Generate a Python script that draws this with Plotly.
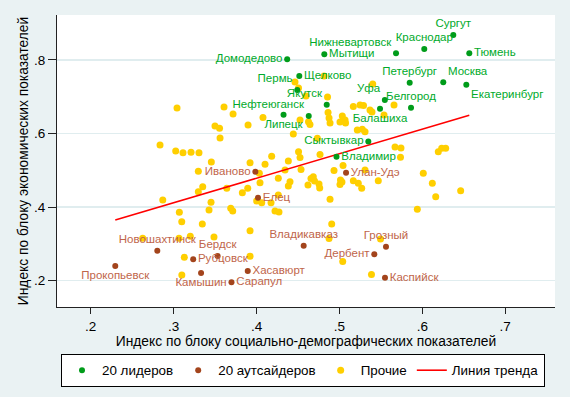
import plotly.graph_objects as go

# ---------------- data ----------------
leader_names = ["Домодедово", "Мытищи", "Нижневартовск", "Краснодар", "Сургут", "Тюмень",
                "Щелково", "Пермь", "Якутск", "Нефтеюганск", "Липецк", "Петербург", "Москва",
                "Екатеринбург", "Уфа", "Балашиха", "Белгород", "Сыктывкар", "Владимир"]
leader_x = [0.4370, 0.4818, 0.5683, 0.6024, 0.6374, 0.6567,
            0.4516, 0.4492, 0.4847, 0.4630, 0.4326, 0.5848, 0.6253,
            0.6531, 0.5548, 0.5490, 0.5864, 0.5349, 0.4965]
leader_y = [0.8020, 0.8155, 0.8182, 0.8299, 0.8680, 0.8182,
            0.7565, 0.7184, 0.6784, 0.6476, 0.6512, 0.7382, 0.7393,
            0.7325, 0.6912, 0.6675, 0.6702, 0.5782, 0.5369]

outsider_names = ["Иваново", "Елец", "Улан-Удэ", "Новошахтинск", "Прокопьевск", "Рубцовск",
                  "Бердск", "Камышин", "Хасавюрт", "Сарапул", "Владикавказ", "Грозный",
                  "Дербент", "Каспийск"]
outsider_x = [0.3986, 0.4018, 0.5080, 0.2803, 0.2296, 0.3236,
              0.3531, 0.3331, 0.3894, 0.3698, 0.4569, 0.5562,
              0.5421, 0.5550]
outsider_y = [0.4961, 0.4253, 0.4933, 0.2811, 0.2395, 0.2577,
              0.2667, 0.2204, 0.2259, 0.1951, 0.2947, 0.2920,
              0.2713, 0.2076]

other_x = [0.3041, 0.3608, 0.3717, 0.3499, 0.3554, 0.3560, 0.2836, 0.3898, 0.4078, 0.4464,
           0.4507, 0.4814, 0.4597, 0.4857, 0.5402, 0.5168, 0.5249, 0.5291, 0.5369, 0.5393,
           0.5659, 0.5538, 0.4863, 0.4875, 0.4887, 0.5035, 0.5068, 0.5007, 0.5074, 0.4627,
           0.4645, 0.4525, 0.5216, 0.5276, 0.5309, 0.4734, 0.4444, 0.5671, 0.5743, 0.6193,
           0.6234, 0.6282, 0.5737, 0.3025, 0.3113, 0.3210, 0.3306, 0.3455, 0.3298, 0.4183,
           0.4507, 0.4525, 0.4384, 0.3922, 0.4103, 0.4344, 0.4935, 0.4685, 0.5309, 0.4766,
           0.5044, 0.4537, 0.4034, 0.6012, 0.4263, 0.4042, 0.4404, 0.4384, 0.4621, 0.4657,
           0.4754, 0.4762, 0.4700, 0.5013, 0.5007, 0.5031, 0.5168, 0.5228, 0.5269, 0.5469,
           0.6121, 0.6463, 0.6162, 0.4887, 0.5940, 0.3351, 0.3298, 0.3641, 0.3829, 0.3894,
           0.4002, 0.4063, 0.4175, 0.4263, 0.4223, 0.4271, 0.2869, 0.3451, 0.3427, 0.3689,
           0.3713, 0.3069, 0.3098, 0.3346, 0.3922, 0.4907, 0.2627, 0.3065, 0.3201, 0.3487,
           0.4875, 0.5496, 0.3129, 0.3922, 0.3099, 0.5040, 0.5387]
other_y = [0.6694, 0.6721, 0.6531, 0.6204, 0.6142, 0.5878, 0.5687, 0.6231, 0.6435, 0.7401,
           0.7238, 0.7565, 0.7020, 0.6993, 0.7347, 0.6735, 0.6776, 0.6762, 0.6639, 0.6585,
           0.6776, 0.6503, 0.6571, 0.6422, 0.6286, 0.6476, 0.6367, 0.6313, 0.6286, 0.6321,
           0.6245, 0.6367, 0.6095, 0.6114, 0.6049, 0.5869, 0.5986, 0.5633, 0.5605, 0.5505,
           0.5597, 0.5597, 0.5352, 0.5524, 0.5478, 0.5488, 0.5478, 0.5225, 0.4971, 0.5380,
           0.5505, 0.5347, 0.5252, 0.5205, 0.5162, 0.5007, 0.4993, 0.4825, 0.5007, 0.5429,
           0.5129, 0.5020, 0.4917, 0.4917, 0.4781, 0.4661, 0.4688, 0.4571, 0.4599, 0.4776,
           0.4626, 0.4517, 0.4708, 0.4735, 0.4612, 0.4680, 0.4716, 0.4645, 0.4509, 0.4716,
           0.4645, 0.4444, 0.4280, 0.4210, 0.3937, 0.4552, 0.4416, 0.4509, 0.4389, 0.4509,
           0.4163, 0.4117, 0.4117, 0.4327, 0.3891, 0.3864, 0.4191, 0.4128, 0.3918, 0.3965,
           0.3891, 0.3856, 0.3600, 0.3537, 0.3355, 0.3537, 0.3148, 0.3148, 0.3203, 0.3184,
           0.3143, 0.3129, 0.2631, 0.2659, 0.2150, 0.2517, 0.2163]

trend_x = [0.2296, 0.6567]
trend_y = [0.3646, 0.6495]

x_ticks = [0.2, 0.3, 0.4, 0.5, 0.6, 0.7]
x_tick_labels = [".2", ".3", ".4", ".5", ".6", ".7"]
y_ticks = [0.2, 0.4, 0.6, 0.8]
y_tick_labels = [".2", ".4", ".6", ".8"]

legend_names = ["20 лидеров", "20 аутсайдеров", "Прочие", "Линия тренда"]
x_title = "Индекс по блоку социально-демографических показателей"
y_title = "Индекс по блоку экономических показателей"

# ---------------- styles ----------------
label_pos = {
    "Домодедово": "middle left", "Мытищи": "middle right", "Нижневартовск": "top left",
    "Краснодар": "top center", "Сургут": "top center", "Тюмень": "middle right",
    "Щелково": "middle right", "Пермь": "top left", "Якутск": "top left",
    "Нефтеюганск": "top left", "Липецк": "bottom center", "Петербург": "top center",
    "Москва": "top right", "Екатеринбург": "bottom right", "Уфа": "top left",
    "Балашиха": "bottom center", "Белгород": "top center", "Сыктывкар": "middle left",
    "Владимир": "middle right",
    "Иваново": "middle left", "Елец": "middle right", "Улан-Удэ": "middle right",
    "Новошахтинск": "top center", "Прокопьевск": "bottom center", "Рубцовск": "middle right",
    "Бердск": "top center", "Камышин": "bottom center", "Хасавюрт": "middle right",
    "Сарапул": "middle right", "Владикавказ": "top center", "Грозный": "top center",
    "Дербент": "middle left", "Каспийск": "middle right",
}

FONT = "Liberation Sans, Arial, sans-serif"
BG = "#eaf2f3"
GREEN_DOT = "#009c1a"
GREEN_TXT = "#00aa2a"
BROWN_DOT = "#a3441c"
BROWN_TXT = "#c0654a"
YELLOW = "#ffcf00"
RED = "#ff0000"

fig = go.Figure()

fig.add_trace(go.Scatter(
    x=other_x, y=other_y, mode="markers", name=legend_names[2], legendrank=3,
    marker=dict(color=YELLOW, size=7, line=dict(width=0)),
    hoverinfo="skip"))

fig.add_trace(go.Scatter(
    x=trend_x, y=trend_y, mode="lines", name=legend_names[3], legendrank=4,
    line=dict(color=RED, width=1.6), hoverinfo="skip"))

fig.add_trace(go.Scatter(
    x=leader_x, y=leader_y, mode="markers+text", name=legend_names[0], legendrank=1,
    text=leader_names, textposition=[label_pos[n] for n in leader_names],
    textfont=dict(family=FONT, size=11.5, color=GREEN_TXT),
    marker=dict(color=GREEN_DOT, size=6, line=dict(width=0)),
    cliponaxis=False, hoverinfo="skip"))

fig.add_trace(go.Scatter(
    x=outsider_x, y=outsider_y, mode="markers+text", name=legend_names[1], legendrank=2,
    text=outsider_names, textposition=[label_pos[n] for n in outsider_names],
    textfont=dict(family=FONT, size=11.5, color=BROWN_TXT),
    marker=dict(color=BROWN_DOT, size=6, line=dict(width=0)),
    cliponaxis=False, hoverinfo="skip"))

fig.update_layout(
    width=570, height=397,
    margin=dict(l=57, r=15, t=15, b=90),
    paper_bgcolor=BG, plot_bgcolor="white",
    font=dict(family=FONT, size=13.5, color="black"),
    showlegend=True,
    legend=dict(
        orientation="h", xref="container", yref="container",
        x=61 / 570, xanchor="left", y=1 - 354 / 397, yanchor="top",
        bgcolor="white", bordercolor="black", borderwidth=1,
        font=dict(family=FONT, size=13.4, color="black"),
        traceorder="normal", itemsizing="trace",
    ),
    xaxis=dict(
        range=[0.1593, 0.7601], tickvals=x_ticks, ticktext=x_tick_labels,
        showgrid=False, zeroline=False, showline=True, linecolor="#222", linewidth=1,
        ticks="outside", ticklen=6, tickcolor="#222", ticklabelstandoff=1,
        tickfont=dict(size=13.5),
        title=dict(text=x_title, standoff=1, font=dict(size=13.8)),
        automargin=False,
    ),
    yaxis=dict(
        range=[0.1279, 0.9224], tickvals=y_ticks, ticktext=y_tick_labels,
        showgrid=True, gridcolor="#e0edef", gridwidth=1.5, zeroline=False,
        showline=True, linecolor="#222", linewidth=1,
        ticks="outside", ticklen=8, tickcolor="#222",
        tickfont=dict(size=13.5),
        title=dict(text=y_title, standoff=2, font=dict(size=13.8)),
        automargin=False,
    ),
)

fig.write_html("out.html",
               config={"displayModeBar": False, "staticPlot": True},
               post_script="document.body.style.margin='0px';"
                           "document.body.style.overflow='hidden';")
